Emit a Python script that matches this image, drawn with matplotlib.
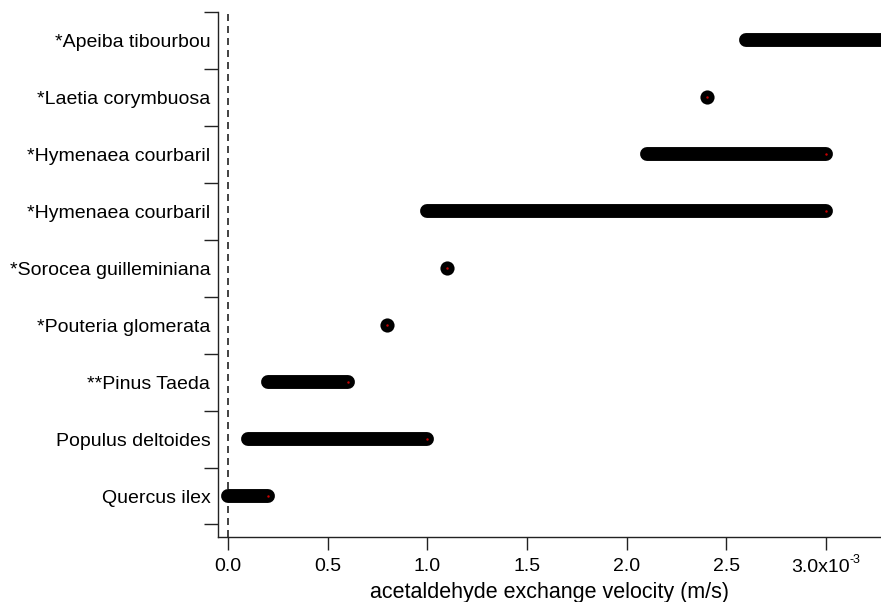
import matplotlib
matplotlib.use("Agg")
import matplotlib.pyplot as plt
import matplotlib.transforms as mtrans
import numpy as np

plt.rcParams['font.family'] = ['Liberation Sans', 'DejaVu Sans']

# species from bottom to top
species = ['Quercus ilex', 'Populus deltoides', '**Pinus Taeda',
           '*Pouteria glomerata', '*Sorocea guilleminiana', '*Hymenaea courbaril',
           '*Hymenaea courbaril', '*Laetia corymbuosa', '*Apeiba tibourbou']
# velocity ranges, units of 1e-3 m/s
v_low = [0.0, 0.1, 0.2, 0.8, 1.1, 1.0, 2.1, 2.4, 2.6]
v_high = [0.2, 1.0, 0.6, 0.8, 1.1, 3.0, 3.0, 2.4, 3.4]

xticks = [0.0, 0.5, 1.0, 1.5, 2.0, 2.5, 3.0]
xticklabels = ['0.0', '0.5', '1.0', '1.5', '2.0', '2.5', '']

fig = plt.figure(figsize=(8.81, 6.02), dpi=100)
ax = fig.add_axes([218/881, 65/602, 663/881, 525/602])

ypos = np.arange(len(species))
for y, lo, hi in zip(ypos, v_low, v_high):
    if lo == hi:
        ax.plot([lo], [y], 'o', color='black', markersize=10.2,
                markeredgewidth=0, zorder=3)
    else:
        ax.plot([lo, hi], [y, y], '-', color='black', lw=10,
                solid_capstyle='round', zorder=3)
    ax.plot([hi], [y], '.', color='#cc0000', markersize=1.5, zorder=4)

ax.axvline(0, color='#222222', lw=1.2, ls=(0, (4.2, 3)), zorder=2)

ax.set_xlim(-0.05, 3.275)
ax.set_ylim(-0.72, 8.5)

ax.set_yticks(ypos)
ax.set_yticklabels(species, fontsize=14)
ax.set_yticks(np.append(ypos - 0.5, 8.5), minor=True)
ax.tick_params(axis='y', which='major', length=0, pad=5.5)
ax.tick_params(axis='y', which='minor', length=10, width=1, color='#222222')

ax.set_xticks(xticks)
ax.set_xticklabels(xticklabels, fontsize=14)
ax.tick_params(axis='x', length=9, width=1, color='#222222', pad=6)

# last tick label with its exponent
blend = mtrans.blended_transform_factory(ax.transData, ax.transAxes)
ax.text(3.0, 0, '3.0x10', fontsize=14, ha='center', va='baseline',
        transform=mtrans.offset_copy(blend, fig=fig, x=-6, y=-35, units='dots'))
ax.text(3.0, 0, '-3', fontsize=9, ha='left', va='baseline',
        transform=mtrans.offset_copy(blend, fig=fig, x=23, y=-26, units='dots'))

ax.set_xlabel('acetaldehyde exchange velocity (m/s)', fontsize=15.5, labelpad=5)

for s in ['top', 'right']:
    ax.spines[s].set_visible(False)
for s in ['left', 'bottom']:
    ax.spines[s].set_color('#222222')
    ax.spines[s].set_linewidth(1)

fig.savefig('out.png', dpi=100)
